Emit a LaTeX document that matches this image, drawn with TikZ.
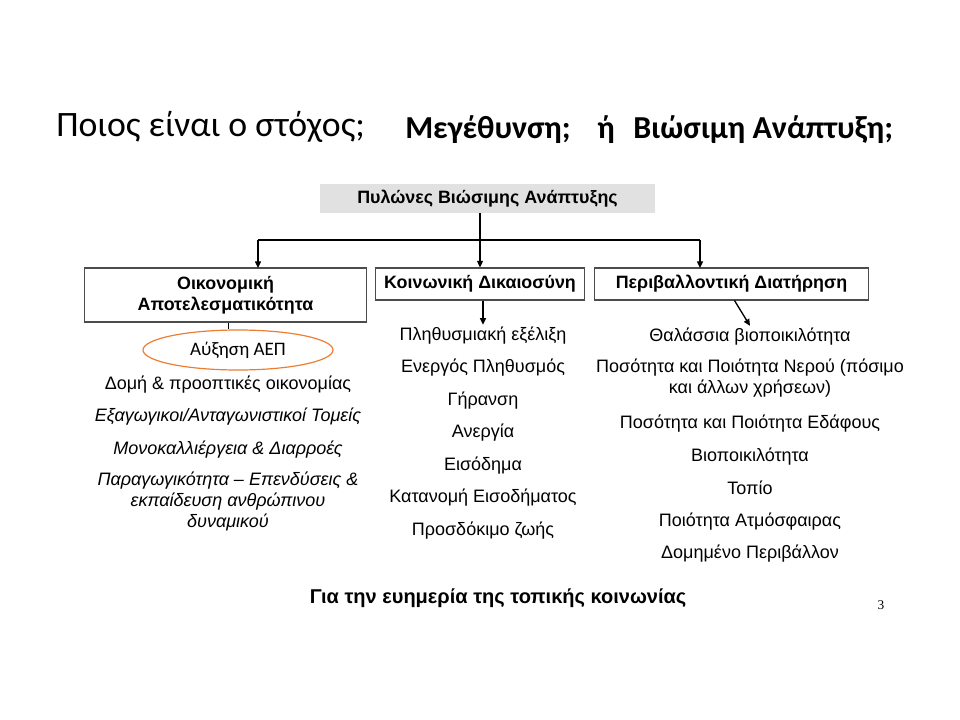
\documentclass[tikz,border=0pt]{standalone}
\usepackage{fontspec}
\setmainfont{Liberation Sans}
\newfontfamily\calibri{Carlito}
\newfontfamily\timesfont{Liberation Serif}
\usetikzlibrary{arrows.meta, shapes.geometric}
\definecolor{pillargrey}{HTML}{E1E1E1}
\definecolor{gdporange}{HTML}{ED7D31}

\tikzset{
  pillar/.style={draw=black!70, line width=0.8pt, inner sep=2pt, font=\bfseries\fontsize{13.4}{15.5}\selectfont, align=center},
  item/.style={font=\fontsize{13.5}{15.75}\selectfont, align=center, inner sep=1pt},
  conn/.style={-{Triangle[length=5pt,width=4.5pt]}, line width=1pt},
}

\begin{document}
\begin{tikzpicture}[x=0.75pt, y=-0.75pt]
  \useasboundingbox (0,0) rectangle (960,720);
  % Title
  \node[font=\calibri\fontsize{26.8}{30}\selectfont, anchor=west, inner sep=0pt] (question) at (56,127) {Ποιος είναι ο στόχος;};
  \node[font=\calibri\bfseries\fontsize{24}{28}\selectfont, anchor=west, inner sep=0pt] (growth) at (405,130) {Μεγέθυνση;};
  \node[font=\calibri\bfseries\fontsize{24}{28}\selectfont, anchor=west, inner sep=0pt] (or) at (597,130) {ή};
  \node[font=\calibri\bfseries\fontsize{24}{28}\selectfont, anchor=west, inner sep=0pt] (sustain) at (633,130) {Βιώσιμη Ανάπτυξη;};

  % Pillars
  \node[fill=pillargrey, minimum width=251pt, minimum height=22pt, font=\bfseries\fontsize{13.4}{15.5}\selectfont] (pillars) at (487.5,198.5) {Πυλώνες Βιώσιμης Ανάπτυξης};
  \node[pillar, minimum width=211pt, minimum height=40.5pt] (econ) at (225.5,295) {Οικονομική\\Αποτελεσματικότητα};
  \node[pillar, minimum width=157pt, minimum height=24pt] (social) at (480,284) {Κοινωνική Δικαιοσύνη};
  \node[pillar, minimum width=206pt, minimum height=24pt] (envir) at (731.5,284) {Περιβαλλοντική Διατήρηση};

  % Connectors
  \coordinate (split) at (480,240);
  \coordinate (econ-in) at (258,268);
  \coordinate (envir-in) at (700,268);
  \draw[conn] (pillars.south -| social.north) -- (social.north);
  \draw[line width=1pt] (econ-in |- split) -- (envir-in |- split);
  \draw[conn] (econ-in |- split) -- (econ-in);
  \draw[conn] (envir-in |- split) -- (envir-in);

  % GDP
  \node[ellipse, draw=gdporange, line width=0.9pt, minimum width=142.5pt, minimum height=30pt, inner sep=0pt, font=\calibri\fontsize{14.3}{16}\selectfont] (gdp) at (238,350) {Αύξηση ΑΕΠ};
  \draw[line width=0.8pt] (econ.south) ++(3,0) coordinate (econ-out) -- (econ-out |- gdp.north);

  % Lists (single lines set on their baseline)
  \foreach \y/\txt [count=\i] in {389/{Δομή \& προοπτικές οικονομίας}, 421/{\itshape Εξαγωγικοι/Ανταγωνιστικοί Τομείς}, 454/{\itshape Μονοκαλλιέργεια \& Διαρροές}}
    \node[item, anchor=base] (econ-\i) at (228,\y) {\txt};
  \node[item, font=\itshape\fontsize{13.5}{15.75}\selectfont] (econ-4) at (228,501.5) {Παραγωγικότητα – Επενδύσεις \&\\ εκπαίδευση ανθρώπινου\\ δυναμικού};
  \foreach \txt [count=\i] in {Πληθυσμιακή εξέλιξη, Ενεργός Πληθυσμός, Γήρανση, Ανεργία, Εισόδημα, Κατανομή Εισοδήματος, Προσδόκιμο ζωής}
    \node[item, anchor=base] (soc-\i) at (483,{340+32.5*(\i-1)}) {\txt};
  \node[item, anchor=base] (env-1) at (750,341) {Θαλάσσια βιοποικιλότητα};
  \node[item] (env-2) at (750,378.5) {Ποσότητα και Ποιότητα Νερού (πόσιμο\\ και άλλων χρήσεων)};
  \foreach \y/\txt [count=\i from 3] in {428/{Ποσότητα και Ποιότητα Εδάφους}, 461/Βιοποικιλότητα, 494/Τοπίο, 526/{Ποιότητα Ατμόσφαιρας}, 558/{Δομημένο Περιβάλλον}}
    \node[item, anchor=base] (env-\i) at (750,\y) {\txt};

  \draw[conn] (social.south -| soc-1.north) -- (soc-1.north);
  \draw[conn] (envir.south) ++(3,0) coordinate (envir-out) -- (env-1.north);

  % Footer
  \node[font=\bfseries\fontsize{15}{18}\selectfont] (welfare) at (498,598) {Για την ευημερία της τοπικής κοινωνίας};
  \node[font=\timesfont\fontsize{10}{12}\selectfont] (page) at (881,605) {3};
\end{tikzpicture}
\end{document}
